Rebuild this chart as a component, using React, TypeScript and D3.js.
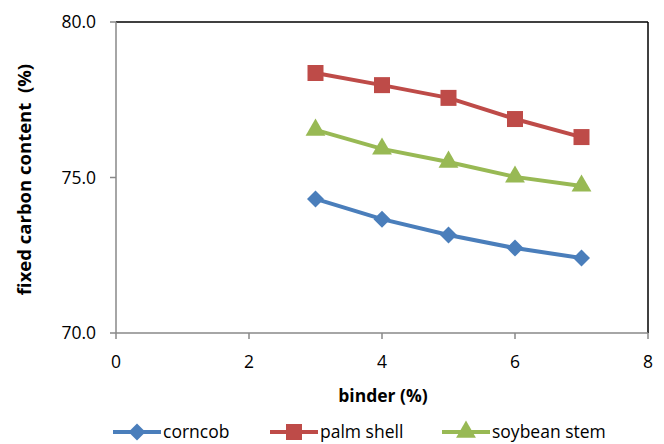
import * as d3 from "d3";

const binder = [3, 4, 5, 6, 7];
const corncob = [74.31, 73.66, 73.15, 72.73, 72.41];
const palmShell = [78.36, 77.97, 77.56, 76.88, 76.3];
const soybeanStem = [76.53, 75.92, 75.5, 75.02, 74.73];
const xTicks = [0, 2, 4, 6, 8];
const yTicks = [70, 75, 80];

const seriesNames = ["corncob", "palm shell", "soybean stem"];
const seriesColors = ["#4A7EBB", "#BE4B48", "#98B954"];

// custom marker paths (diamond = rotated square, Excel style)
const marker = (k: number): string => {
    if (k === 0) return "M0,-8.5L8.5,0L0,8.5L-8.5,0Z";
    if (k === 1) return "M-8,-8H8V8H-8Z";
    return d3.symbol(d3.symbolTriangle, 170)() ?? "";
};

function App() {
    const width = 664;
    const height = 444;
    const margin = { top: 22, right: 16, bottom: 111, left: 116 };
    const innerW = width - margin.left - margin.right;
    const innerH = height - margin.top - margin.bottom;
    const font = "'Open Sans', sans-serif";

    const x = d3.scaleLinear().domain([0, 8]).range([0, innerW]);
    const y = d3.scaleLinear().domain([70, 80]).range([innerH, 0]);

    const allSeries = [corncob, palmShell, soybeanStem];
    const line = d3.line<number>()
        .x((_, i) => x(binder[i]))
        .y(d => y(d));

    const legendX = [113, 270, 442];

    return (
        <svg width={width} height={height} style={{ position: "absolute", left: 0, top: 0 }}>
            <g transform={`translate(${margin.left},${margin.top})`}>
                {/* frame */}
                <line x1={0} y1={0} x2={innerW} y2={0} stroke="#000" strokeWidth={1.5} />
                <line x1={innerW} y1={0} x2={innerW} y2={innerH} stroke="#000" strokeWidth={1.5} />
                <line x1={0} y1={0} x2={0} y2={innerH} stroke="#888" strokeWidth={1.5} />
                <line x1={0} y1={innerH} x2={innerW} y2={innerH} stroke="#888" strokeWidth={1.5} />

                {yTicks.map(t => (
                    <g key={t} transform={`translate(0,${y(t)})`}>
                        <line x1={-6} x2={0} stroke="#888" strokeWidth={1.5} />
                        <text x={-20} dy="0.36em" textAnchor="end" fontSize={17.5} fontFamily={font} fill="#000">
                            {t.toFixed(1)}
                        </text>
                    </g>
                ))}
                {xTicks.map(t => (
                    <g key={t} transform={`translate(${x(t)},${innerH})`}>
                        <line y1={0} y2={6} stroke="#888" strokeWidth={1.5} />
                        <text y={35} textAnchor="middle" fontSize={17.5} fontFamily={font} fill="#000">
                            {t}
                        </text>
                    </g>
                ))}

                {allSeries.map((s, k) => (
                    <g key={k}>
                        <path d={line(s) ?? ""} fill="none" stroke={seriesColors[k]} strokeWidth={4} />
                        {s.map((v, i) => (
                            <path key={i}
                                transform={`translate(${x(binder[i])},${y(v)})`}
                                d={marker(k)}
                                fill={seriesColors[k]} />
                        ))}
                    </g>
                ))}
            </g>

            <text x={margin.left + innerW / 2 + 1} y={402} textAnchor="middle" fontSize={17.5} fontWeight="bold" fontFamily={font}>
                binder (%)
            </text>
            <text transform={`translate(31,${margin.top + innerH / 2 + 2}) rotate(-90)`} textAnchor="middle"
                fontSize={18.5} fontWeight="bold" fontFamily={font} style={{ whiteSpace: "pre" }}>
                fixed carbon content  (%)
            </text>

            {seriesNames.map((n, k) => (
                <g key={n} transform={`translate(${legendX[k]},432)`}>
                    <line x1={0} x2={48} stroke={seriesColors[k]} strokeWidth={4} />
                    <path transform="translate(24,0)" d={marker(k)} fill={seriesColors[k]} />
                    <text x={50} dy="0.35em" fontSize={17.5} fontFamily={font}>{n}</text>
                </g>
            ))}
        </svg>
    );
}

export default App;
